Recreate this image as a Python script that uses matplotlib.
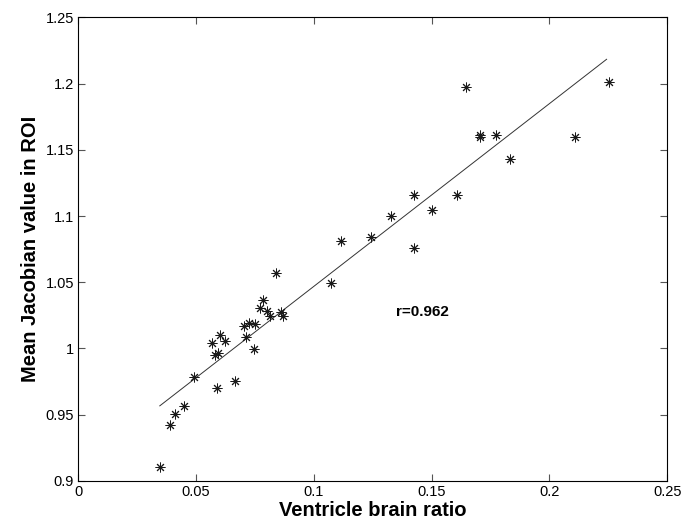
import numpy as np
from matplotlib import pyplot as plt

plt.rcParams['font.family'] = ['Liberation Sans', 'DejaVu Sans']

# values
ventricle_ratio = [0.0346, 0.0390, 0.0412, 0.0449, 0.0490, 0.0567, 0.0580, 0.0595,
                   0.0602, 0.0623, 0.0591, 0.0665, 0.0702, 0.0726, 0.0752, 0.0711,
                   0.0745, 0.0771, 0.0785, 0.0800, 0.0813, 0.0839, 0.0861, 0.0867,
                   0.1074, 0.1116, 0.1244, 0.1329, 0.1426, 0.1426, 0.1500, 0.1609,
                   0.1646, 0.1707, 0.1707, 0.1774, 0.1833, 0.2110, 0.2254]
mean_jacobian = [0.9106, 0.9424, 0.9504, 0.9565, 0.9782, 1.0041, 0.9953, 0.9963,
                 1.0104, 1.0059, 0.9701, 0.9751, 1.0173, 1.0190, 1.0185, 1.0087,
                 0.9993, 1.0304, 1.0367, 1.0281, 1.0248, 1.0568, 1.0278, 1.0248,
                 1.0498, 1.0813, 1.0838, 1.0997, 1.1161, 1.0760, 1.1048, 1.1161,
                 1.1976, 1.1600, 1.1610, 1.1610, 1.1428, 1.1597, 1.2014]
fit_x_range = [0.0346, 0.2243]
fit_slope = 1.379
fit_intercept = 0.909
r_text = 'r=0.962'

x = np.array(ventricle_ratio)
y = np.array(mean_jacobian)

fig = plt.figure(figsize=(6.82, 5.24), dpi=100)
ax = fig.add_axes([0.1148, 0.0821, 0.8634, 0.8849])

x_fit = np.array(fit_x_range)
ax.plot(x_fit, fit_intercept + fit_slope * x_fit, color='#333333', linewidth=0.7)
ax.plot(x, y, linestyle='none', marker=(8, 2, 0), markersize=7,
        markeredgewidth=0.7, color='#1a1a1a')

ax.text(0.135, 1.0276, r_text, fontsize=11, fontweight='bold', va='center', ha='left')

ax.set_xlim(0, 0.25)
ax.set_ylim(0.9, 1.25)
ax.set_xticks([0, 0.05, 0.1, 0.15, 0.2, 0.25])
ax.set_xticklabels(['0', '0.05', '0.1', '0.15', '0.2', '0.25'])
ax.set_yticks([0.9, 0.95, 1, 1.05, 1.1, 1.15, 1.2, 1.25])
ax.set_yticklabels(['0.9', '0.95', '1', '1.05', '1.1', '1.15', '1.2', '1.25'])
ax.tick_params(direction='in', top=True, right=True, length=5, width=0.8,
               labelsize=10.5, pad=3, color='#555555')
for spine in ax.spines.values():
    spine.set_linewidth(0.8)

ax.set_xlabel('Ventricle brain ratio', fontsize=14.5, fontweight='bold', labelpad=1)
ax.set_ylabel('Mean Jacobian value in ROI', fontsize=14.5, fontweight='bold', labelpad=4)

fig.savefig('out.png', dpi=100)
